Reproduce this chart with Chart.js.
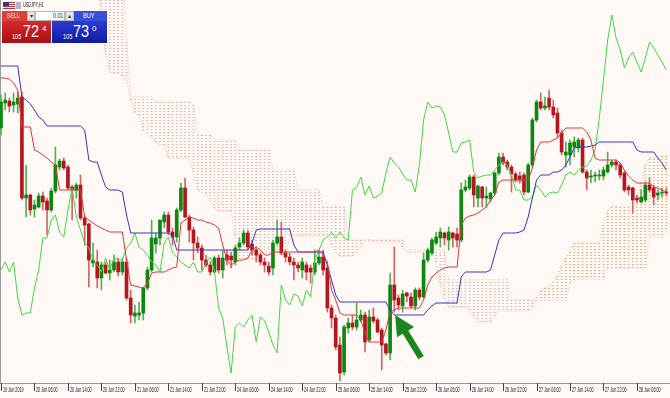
<!DOCTYPE html>
<html>
<head>
<meta charset="utf-8">
<script src="https://cdn.jsdelivr.net/npm/chart.js@4/dist/chart.umd.min.js"></script>
<style>
  body { margin: 0; background: #fff9f6; }
  #wrap { position: relative; width: 670px; height: 398px; overflow: hidden; font-family: "Liberation Sans", Arial, sans-serif; }
  #chart { position: absolute; left: 0; top: 0; }
  .abs { position: absolute; }
  .sq { display: inline-block; transform-origin: left center; white-space: nowrap; }
  #flag { left: 3px; top: 2px; width: 12px; height: 7px; background: repeating-linear-gradient(#c8323c 0 1px, #fff 1px 2px); }
  #flag::before { content: ""; position: absolute; left: 0; top: 0; width: 6px; height: 4px; background: #2a3a8c; }
  #flag2 { left: 16px; top: 2px; width: 5px; height: 7px; background: #b0b8c8; }
  #sym { left: 23px; top: 1px; font-size: 7px; color: #222; }
  #sellTop { left: 2px; top: 11px; width: 25px; height: 10px; background: #d8413c; color: #fff; font-size: 7px; line-height: 10px; }
  #dd { left: 27px; top: 11px; width: 8px; height: 10px; background: #e4e4e4; box-sizing: border-box; border: 1px solid #b8b8b8; font-size: 6px; line-height: 8px; text-align: center; color: #333; }
  #lot { left: 35px; top: 11px; width: 30px; height: 10px; background: #fff; box-sizing: border-box; border: 1px solid #b8b8b8; font-size: 7px; line-height: 8px; color: #222; }
  #up { left: 65px; top: 11px; width: 9px; height: 10px; background: #e4e4e4; box-sizing: border-box; border: 1px solid #b8b8b8; font-size: 6px; line-height: 8px; text-align: center; color: #333; }
  #buyTop { left: 74px; top: 11px; width: 33px; height: 10px; background: #3a4fd8; color: #fff; font-size: 7px; line-height: 10px; }
  #sellBig { left: 2px; top: 21px; width: 49px; height: 22px; background: linear-gradient(#d42a2a, #a90f12); color: #fff; }
  #buyBig { left: 52px; top: 21px; width: 55px; height: 22px; background: linear-gradient(#2a3ad6, #0f1c9e); color: #fff; }
  .small { font-size: 7px; bottom: 3px; }
  .big { font-size: 17px; top: 1px; line-height: 20px; }
  .sup { font-size: 8px; top: 3px; }
</style>
</head>
<body>
<div id="wrap">
  <canvas id="chart" width="670" height="398"></canvas>
  <div class="abs" id="flag"></div>
  <div class="abs" id="flag2"></div>
  <div class="abs" id="sym"><span class="sq" style="transform:scaleX(.55)">USDJPY,H1</span></div>
  <div class="abs" id="sellTop"><span class="sq" style="transform:scaleX(.75);margin-left:5px">SELL</span></div>
  <div class="abs" id="dd">&#9662;</div>
  <div class="abs" id="lot"><span class="sq" style="transform:scaleX(.75);margin-left:17px">0.01</span></div>
  <div class="abs" id="up">&#9652;</div>
  <div class="abs" id="buyTop"><span class="sq" style="transform:scaleX(.8);margin-left:9px">BUY</span></div>
  <div class="abs" id="sellBig">
    <span class="abs small" style="left:10px"><span class="sq" style="transform:scaleX(.8)">105</span></span>
    <span class="abs big" style="left:21px"><span class="sq" style="transform:scaleX(.85)">72</span></span>
    <span class="abs sup" style="left:40px">4</span>
  </div>
  <div class="abs" id="buyBig">
    <span class="abs small" style="left:11px"><span class="sq" style="transform:scaleX(.8)">105</span></span>
    <span class="abs big" style="left:21px"><span class="sq" style="transform:scaleX(.85)">73</span></span>
    <span class="abs sup" style="left:40px">0</span>
  </div>
</div>
<script>
// USDJPY H1, one value per bar, bar 0 = 19 Jun 22:00
const openP = [
  107.860,107.985,107.995,107.975,107.980,108.015,107.510,107.525,107.455,107.465,
  107.520,107.495,107.450,107.545,107.665,107.695,107.665,107.565,107.550,107.575,
  107.410,107.380,107.185,107.190,107.110,107.175,107.135,107.150,107.190,107.140,
  107.190,107.010,106.920,106.925,106.935,107.060,107.150,107.280,107.310,107.390,
  107.425,107.340,107.315,107.450,107.560,107.415,107.350,107.285,107.260,107.200,
  107.175,107.140,107.210,107.150,107.225,107.220,107.190,107.265,107.285,107.335,
  107.280,107.250,107.225,107.190,107.170,107.160,107.285,107.315,107.235,107.215,
  107.190,107.175,107.150,107.175,107.160,107.140,107.185,107.215,107.160,106.960,
  106.910,106.775,106.640,106.860,106.885,106.865,106.900,106.925,106.800,106.915,
  106.900,106.850,106.780,106.735,107.075,107.010,106.970,107.035,107.015,106.970,
  107.050,107.015,107.200,107.235,107.285,107.310,107.335,107.300,107.335,107.330,
  107.300,107.550,107.560,107.615,107.510,107.565,107.510,107.505,107.535,107.635,
  107.715,107.690,107.665,107.630,107.620,107.625,107.540,107.675,107.900,107.990,
  107.960,108.010,107.965,107.935,107.835,107.725,107.725,107.765,107.760,107.800,
  107.640,107.615,107.620,107.620,107.620,107.640,107.675,107.690,107.675,107.635,
  107.565,107.560,107.510,107.490,107.500,107.575,107.560,107.525,107.535,107.540
];
const highP = [
  108.025,108.035,108.010,108.035,108.040,108.040,107.675,107.530,107.500,107.535,
  107.540,107.510,107.560,107.765,107.705,107.710,107.675,107.575,107.585,107.625,
  107.420,107.385,107.285,107.250,107.190,107.190,107.200,107.225,107.210,107.210,
  107.210,107.050,106.975,106.990,107.065,107.165,107.400,107.335,107.400,107.440,
  107.440,107.360,107.460,107.585,107.610,107.425,107.365,107.315,107.275,107.225,
  107.190,107.220,107.225,107.250,107.250,107.240,107.275,107.310,107.350,107.350,
  107.300,107.260,107.235,107.210,107.190,107.300,107.400,107.390,107.250,107.235,
  107.210,107.190,107.210,107.190,107.175,107.250,107.240,107.250,107.175,106.975,
  106.925,106.815,106.875,106.910,106.925,106.985,106.950,106.940,106.950,106.960,
  106.910,106.860,106.785,107.135,107.265,107.025,107.050,107.040,107.035,107.060,
  107.060,107.235,107.260,107.310,107.340,107.360,107.340,107.365,107.340,107.360,
  107.585,107.600,107.625,107.625,107.575,107.570,107.565,107.540,107.640,107.735,
  107.735,107.700,107.675,107.640,107.640,107.635,107.685,107.910,108.000,108.035,
  108.015,108.050,108.000,107.960,107.850,107.790,107.800,107.815,107.810,107.810,
  107.650,107.650,107.640,107.650,107.665,107.740,107.700,107.700,107.685,107.645,
  107.575,107.565,107.525,107.550,107.590,107.610,107.575,107.550,107.560,107.560
];
const lowP = [
  107.825,107.950,107.940,107.940,107.935,107.500,107.415,107.425,107.415,107.460,
  107.450,107.325,107.440,107.535,107.650,107.650,107.550,107.400,107.510,107.400,
  107.275,107.065,107.165,107.060,107.050,107.130,107.100,107.140,107.120,107.125,
  107.000,106.885,106.885,106.900,106.900,107.050,107.140,107.235,107.275,107.360,
  107.325,107.275,107.290,107.440,107.410,107.290,107.200,107.235,107.150,107.165,
  107.125,107.135,107.135,107.110,107.175,107.160,107.175,107.250,107.275,107.250,
  107.225,107.190,107.175,107.140,107.125,107.125,107.275,107.225,107.190,107.175,
  107.100,107.140,107.110,107.100,107.085,107.125,107.175,107.125,106.940,106.860,
  106.750,106.595,106.625,106.835,106.850,106.850,106.890,106.740,106.790,106.885,
  106.835,106.650,106.725,106.700,106.940,106.950,106.940,106.990,106.960,106.950,
  107.000,107.010,107.190,107.225,107.275,107.265,107.275,107.250,107.265,107.265,
  107.290,107.540,107.550,107.465,107.465,107.465,107.465,107.490,107.525,107.625,
  107.675,107.650,107.540,107.590,107.585,107.525,107.535,107.665,107.890,107.950,
  107.950,107.950,107.910,107.815,107.725,107.665,107.675,107.715,107.740,107.635,
  107.550,107.585,107.590,107.600,107.600,107.635,107.665,107.650,107.610,107.540,
  107.525,107.435,107.485,107.485,107.490,107.540,107.475,107.500,107.515,107.520
];
const closeP = [
  107.990,108.000,107.970,107.990,108.010,107.510,107.525,107.450,107.475,107.520,
  107.490,107.450,107.545,107.675,107.695,107.660,107.560,107.550,107.575,107.410,
  107.375,107.200,107.200,107.110,107.175,107.135,107.150,107.190,107.140,107.190,
  107.010,106.925,106.935,106.935,107.060,107.150,107.310,107.310,107.400,107.425,
  107.340,107.315,107.450,107.560,107.415,107.350,107.285,107.260,107.200,107.175,
  107.140,107.210,107.150,107.210,107.200,107.200,107.260,107.285,107.335,107.265,
  107.250,107.225,107.190,107.175,107.140,107.285,107.315,107.235,107.215,107.190,
  107.175,107.160,107.190,107.140,107.140,107.185,107.215,107.150,106.960,106.910,
  106.765,106.635,106.865,106.885,106.865,106.900,106.925,106.790,106.915,106.895,
  106.840,106.775,106.735,107.075,107.000,106.975,107.030,107.020,106.970,107.050,
  107.015,107.200,107.250,107.300,107.315,107.340,107.310,107.340,107.310,107.300,
  107.550,107.565,107.615,107.525,107.570,107.510,107.520,107.535,107.635,107.715,
  107.685,107.665,107.630,107.600,107.600,107.540,107.675,107.900,107.990,107.960,
  107.970,107.965,107.925,107.835,107.740,107.740,107.785,107.790,107.800,107.640,
  107.610,107.620,107.625,107.625,107.650,107.675,107.690,107.675,107.625,107.550,
  107.550,107.500,107.500,107.515,107.575,107.550,107.515,107.535,107.540,107.535
];
// Ichimoku lines as drawn on the chart (already shifted)
const tenkan = [
  108.110,108.110,108.105,108.085,108.050,107.865,107.865,107.865,107.750,107.740,
  107.725,107.710,107.690,107.675,107.550,107.550,107.550,107.550,107.550,107.550,
  107.415,107.400,107.385,107.370,107.360,107.350,107.340,107.340,107.340,107.340,
  107.200,107.075,107.070,107.065,107.060,107.085,107.135,107.140,107.140,107.140,
  107.150,107.160,107.165,107.385,107.400,107.415,107.410,107.400,107.400,107.390,
  107.385,107.375,107.360,107.275,107.200,107.175,107.190,107.200,107.200,107.210,
  107.250,107.265,107.250,107.225,107.225,107.240,107.240,107.240,107.240,107.240,
  107.240,107.240,107.240,107.240,107.240,107.240,107.250,107.225,107.190,107.050,
  107.000,106.935,106.925,106.925,106.925,106.925,106.900,106.835,106.790,106.790,
  106.790,106.790,106.850,106.940,106.950,106.960,106.960,106.960,106.960,106.960,
  106.960,107.000,107.075,107.115,107.135,107.150,107.160,107.165,107.165,107.165,
  107.375,107.410,107.420,107.425,107.435,107.450,107.465,107.500,107.525,107.590,
  107.600,107.600,107.600,107.600,107.600,107.600,107.600,107.660,107.750,107.790,
  107.790,107.790,107.800,107.810,107.835,107.860,107.860,107.860,107.860,107.860,
  107.840,107.800,107.710,107.700,107.700,107.700,107.700,107.700,107.685,107.650,
  107.620,107.600,107.585,107.585,107.585,107.585,107.565,107.560,107.550,107.540
];
const kijun = [
  108.170,108.170,108.170,108.170,108.170,108.015,108.000,107.980,107.950,107.915,
  107.900,107.870,107.870,107.870,107.870,107.870,107.870,107.870,107.870,107.870,
  107.850,107.700,107.690,107.690,107.625,107.565,107.550,107.550,107.550,107.540,
  107.425,107.335,107.335,107.335,107.335,107.335,107.335,107.335,107.335,107.335,
  107.335,107.325,107.250,107.250,107.250,107.250,107.250,107.250,107.250,107.250,
  107.250,107.250,107.250,107.250,107.250,107.250,107.250,107.250,107.250,107.250,
  107.285,107.350,107.355,107.355,107.355,107.355,107.355,107.355,107.355,107.355,
  107.275,107.240,107.240,107.240,107.240,107.240,107.240,107.240,107.175,107.100,
  107.025,106.990,106.990,106.990,106.990,106.990,106.990,106.990,106.990,106.990,
  106.990,106.990,106.990,106.950,106.925,106.925,106.925,106.925,106.925,106.925,
  106.925,106.925,106.950,106.970,106.985,106.985,106.985,106.985,106.985,106.985,
  107.115,107.140,107.140,107.140,107.140,107.140,107.140,107.150,107.225,107.300,
  107.335,107.335,107.335,107.335,107.340,107.350,107.415,107.510,107.600,107.625,
  107.625,107.625,107.640,107.640,107.650,107.675,107.715,107.760,107.765,107.765,
  107.765,107.770,107.775,107.790,107.790,107.790,107.790,107.790,107.790,107.790,
  107.790,107.790,107.750,107.740,107.740,107.740,107.740,107.710,107.685,107.650
];
const chikou = [
  107.150,107.190,107.140,107.190,107.010,106.925,106.935,106.935,107.060,107.150,
  107.310,107.310,107.400,107.425,107.340,107.315,107.450,107.560,107.415,107.350,
  107.285,107.260,107.200,107.175,107.140,107.210,107.150,107.210,107.200,107.200,
  107.260,107.285,107.335,107.265,107.250,107.225,107.190,107.175,107.140,107.285,
  107.315,107.235,107.215,107.190,107.175,107.160,107.190,107.140,107.140,107.185,
  107.215,107.150,106.960,106.910,106.765,106.635,106.865,106.885,106.865,106.900,
  106.925,106.790,106.915,106.895,106.840,106.775,106.735,107.075,107.000,106.975,
  107.030,107.020,106.970,107.050,107.015,107.200,107.250,107.300,107.315,107.340,
  107.310,107.340,107.310,107.300,107.550,107.565,107.615,107.525,107.570,107.510,
  107.520,107.535,107.635,107.715,107.685,107.665,107.630,107.600,107.600,107.540,
  107.675,107.900,107.990,107.960,107.970,107.965,107.925,107.835,107.740,107.740,
  107.785,107.790,107.800,107.640,107.610,107.620,107.625,107.625,107.650,107.675,
  107.690,107.675,107.625,107.550,107.550,107.500,107.500,107.515,107.575,107.550,
  107.515,107.535,107.540,107.535,107.575,107.625,107.640,107.625,107.650,107.665,
  107.670,107.700,107.750,107.910,108.100,108.300,108.425,108.310,108.250,108.160,
  108.210,108.240,108.190,108.140,108.210,108.290,108.260,108.225,108.190,108.150
];
const spanA = [
  108.650,108.650,108.650,108.650,108.650,108.650,108.650,108.650,108.650,108.650,
  108.650,108.650,108.650,108.650,108.650,108.650,108.650,108.650,108.650,108.650,
  108.650,108.650,108.650,108.650,108.400,108.225,108.140,108.135,108.130,108.120,
  108.110,108.000,107.935,107.925,107.850,107.830,107.815,107.790,107.780,107.775,
  107.710,107.710,107.710,107.710,107.710,107.710,107.635,107.550,107.540,107.530,
  107.495,107.460,107.445,107.445,107.445,107.445,107.315,107.205,107.205,107.205,
  107.205,107.210,107.240,107.240,107.240,107.240,107.240,107.240,107.215,107.320,
  107.320,107.320,107.320,107.320,107.320,107.320,107.320,107.320,107.320,107.275,
  107.240,107.220,107.220,107.220,107.220,107.240,107.270,107.300,107.300,107.290,
  107.290,107.290,107.290,107.290,107.290,107.290,107.260,107.240,107.240,107.240,
  107.240,107.240,107.240,107.240,107.185,107.075,107.015,106.965,106.965,106.965,
  106.965,106.965,106.945,106.915,106.890,106.890,106.890,106.890,106.920,106.945,
  106.945,106.945,106.945,106.945,106.945,106.945,106.945,106.965,107.015,107.045,
  107.060,107.070,107.090,107.120,107.170,107.210,107.245,107.285,107.285,107.285,
  107.285,107.285,107.285,107.285,107.375,107.445,107.470,107.470,107.470,107.470,
  107.470,107.470,107.510,107.585,107.675,107.710,107.710,107.710,107.720,107.720
];
const spanB = [
  108.700,108.700,108.700,108.700,108.700,108.700,108.700,108.700,108.700,108.700,
  108.700,108.700,108.700,108.700,108.700,108.700,108.700,108.700,108.700,108.700,
  108.700,108.700,108.700,108.700,108.700,108.700,108.700,108.700,108.700,108.700,
  108.300,108.015,108.015,108.015,108.015,108.015,108.015,107.990,107.990,107.990,
  107.990,107.990,107.990,107.990,107.990,107.990,107.975,107.825,107.825,107.825,
  107.825,107.800,107.800,107.800,107.800,107.800,107.800,107.750,107.750,107.750,
  107.750,107.750,107.750,107.750,107.750,107.650,107.650,107.650,107.650,107.650,
  107.650,107.550,107.550,107.550,107.550,107.550,107.550,107.465,107.465,107.465,
  107.465,107.465,107.465,107.300,107.300,107.300,107.300,107.300,107.300,107.300,
  107.300,107.300,107.300,107.300,107.300,107.300,107.300,107.250,107.250,107.250,
  107.250,107.250,107.250,107.250,107.250,107.250,107.250,107.100,107.100,107.100,
  107.100,107.100,107.100,107.100,107.100,107.100,107.100,107.100,107.100,107.100,
  107.100,107.100,107.000,107.000,107.000,107.000,107.000,107.000,107.000,107.000,
  107.000,107.000,107.000,107.000,107.000,107.000,107.085,107.095,107.105,107.105,
  107.105,107.105,107.105,107.105,107.105,107.160,107.160,107.160,107.160,107.160,
  107.160,107.160,107.160,107.160,107.160,107.315,107.315,107.315,107.315,107.350
];
const tickLabels = [
  '19 Jun 2019','20 Jun 06:00','20 Jun 14:00','20 Jun 22:00','21 Jun 06:00',
  '21 Jun 14:00','21 Jun 22:00','24 Jun 06:00','24 Jun 14:00','24 Jun 22:00',
  '25 Jun 06:00','25 Jun 14:00','25 Jun 22:00','26 Jun 06:00','26 Jun 14:00',
  '26 Jun 22:00','27 Jun 06:00','27 Jun 14:00','27 Jun 22:00','28 Jun 06:00'
];
const BARS_PER_LABEL = 8;
// hand-drawn arrow annotation: [bar, price]
const arrowTail = [100.4, 106.712];
const arrowTip = [94.2, 106.925];

const BG = '#fff9f6';
const BULL = '#0d870f', BEAR = '#b3161e';
const BULL_WICK = '#52b152', BEAR_WICK = '#d46468';

const idx = openP.map((_, i) => i);
const up = i => closeP[i] >= openP[i];

const ctx = document.getElementById('chart').getContext('2d');

function dots(color) {
  const c = document.createElement('canvas');
  c.width = 1; c.height = 3;
  const g = c.getContext('2d');
  g.fillStyle = color;
  g.fillRect(0, 0, 1, 1);
  return ctx.createPattern(c, 'repeat');
}

const kumoUpBars = idx.filter(i => spanA[i] >= spanB[i]);
const kumoDnBars = idx.filter(i => spanA[i] < spanB[i]);

const lineDs = (label, arr, color, extra) => Object.assign({
  type: 'line', label, data: arr.map((v, i) => ({ x: i, y: v })),
  borderColor: color, borderWidth: 1, pointRadius: 0, tension: 0, fill: false, order: 0
}, extra || {});

const background = {
  id: 'background',
  beforeDraw(chart) {
    const c = chart.ctx;
    c.save();
    c.fillStyle = BG;
    c.fillRect(0, 0, chart.width, chart.height);
    c.strokeStyle = '#9a9a9a';
    c.beginPath();
    c.moveTo(0.5, 0); c.lineTo(0.5, chart.chartArea.bottom);
    c.stroke();
    c.restore();
  }
};

const timeAxis = {
  id: 'timeAxis',
  afterDraw(chart) {
    const c = chart.ctx, xs = chart.scales.x, bottom = chart.chartArea.bottom;
    c.save();
    c.strokeStyle = '#444';
    c.fillStyle = '#111';
    c.font = '7.5px "Liberation Sans"';
    c.textBaseline = 'alphabetic';
    tickLabels.forEach((t, k) => {
      const px = Math.round(xs.getPixelForValue(k * BARS_PER_LABEL)) + 0.5;
      c.beginPath();
      c.moveTo(px, bottom); c.lineTo(px, bottom + 8);
      c.stroke();
      c.save();
      c.translate(px + 1.5, 392);
      c.scale(0.5, 1);
      c.fillText(t, 0, 0);
      c.restore();
    });
    c.restore();
  }
};

const arrow = {
  id: 'arrow',
  afterDatasetsDraw(chart) {
    const c = chart.ctx, xs = chart.scales.x, ys = chart.scales.y;
    const tx = xs.getPixelForValue(arrowTail[0]), ty = ys.getPixelForValue(arrowTail[1]);
    const hx = xs.getPixelForValue(arrowTip[0]), hy = ys.getPixelForValue(arrowTip[1]);
    const len = Math.hypot(hx - tx, hy - ty);
    c.save();
    c.translate(hx, hy);
    c.rotate(Math.atan2(hy - ty, hx - tx));
    c.fillStyle = '#1a861c';
    c.beginPath();
    c.moveTo(0, 0);
    c.lineTo(-20, -10); c.lineTo(-20, -3.2); c.lineTo(-len, -3.2);
    c.lineTo(-len, 3.2); c.lineTo(-20, 3.2); c.lineTo(-20, 10);
    c.closePath();
    c.fill();
    c.restore();
  }
};

new Chart(ctx, {
  type: 'bar',
  data: {
    datasets: [
      lineDs('Tenkan-sen', tenkan, '#e2383c'),
      lineDs('Kijun-sen', kijun, '#3535cf'),
      lineDs('Chikou Span', chikou, '#45d845'),
      lineDs('Senkou Span A', spanA, '#f2b07c', { borderDash: [1, 2], order: 3 }),
      lineDs('Senkou Span B', spanB, '#e2bcc8', { borderDash: [1, 2], order: 3 }),
      {
        label: 'body', order: 1, grouped: false, barThickness: 3, minBarLength: 1,
        data: idx.map(i => ({ x: i, y: [openP[i], closeP[i]] })),
        backgroundColor: idx.map(i => up(i) ? BULL : BEAR), borderWidth: 0
      },
      {
        label: 'wick', order: 2, grouped: false, barThickness: 1,
        data: idx.map(i => ({ x: i, y: [lowP[i], highP[i]] })),
        backgroundColor: idx.map(i => up(i) ? BULL_WICK : BEAR_WICK), borderWidth: 0
      },
      {
        label: 'kumo up', order: 4, grouped: false, barThickness: 1,
        data: kumoUpBars.map(i => ({ x: i, y: [spanB[i], spanA[i]] })),
        backgroundColor: dots('#f0a66e'), borderWidth: 0
      },
      {
        label: 'kumo down', order: 4, grouped: false, barThickness: 1,
        data: kumoDnBars.map(i => ({ x: i, y: [spanA[i], spanB[i]] })),
        backgroundColor: dots('#e6b0a4'), borderWidth: 0
      }
    ]
  },
  options: {
    responsive: false,
    animation: false,
    devicePixelRatio: 1,
    layout: { padding: 0 },
    plugins: { legend: { display: false }, tooltip: { enabled: false } },
    scales: {
      x: {
        type: 'linear', min: -0.24, max: 159.9, offset: false,
        grid: { display: false },
        ticks: { display: false },
        border: { display: true, color: '#9a9a9a' },
        afterFit: s => { s.height = 15; }
      },
      y: { display: false, min: 106.585, max: 108.5 }
    }
  },
  plugins: [background, timeAxis, arrow]
});
</script>
</body>
</html>
